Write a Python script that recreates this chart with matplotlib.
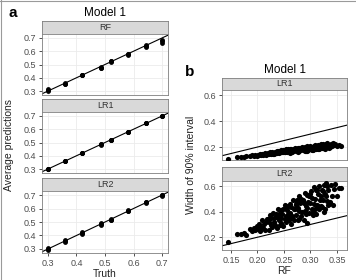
import matplotlib
matplotlib.use("Agg")
import matplotlib.pyplot as plt
from matplotlib.lines import Line2D

plt.rcParams["font.family"] = ["Liberation Sans", "DejaVu Sans"]

# panel a: truth vs average predictions (3 replicates per truth value)
truth = [0.30, 0.36, 0.42, 0.485, 0.52, 0.58, 0.645, 0.70]
pred_rf = [[0.300, 0.310, 0.318], [0.350, 0.356, 0.360], [0.418, 0.421, 0.424],
           [0.470, 0.476, 0.480], [0.520, 0.524, 0.528], [0.574, 0.578, 0.582],
           [0.630, 0.640, 0.650], [0.662, 0.675, 0.688]]
pred_lr1 = [[0.300, 0.301, 0.302], [0.358, 0.359, 0.360], [0.419, 0.420, 0.421],
            [0.484, 0.485, 0.486], [0.519, 0.520, 0.521], [0.579, 0.580, 0.581],
            [0.644, 0.645, 0.646], [0.699, 0.700, 0.701]]
pred_lr2 = [[0.295, 0.303, 0.310], [0.352, 0.358, 0.366], [0.412, 0.420, 0.428],
            [0.478, 0.485, 0.490], [0.512, 0.518, 0.524], [0.578, 0.583, 0.588],
            [0.643, 0.647, 0.651], [0.690, 0.697, 0.703]]
models_a = ["RF", "LR1", "LR2"]

# panel b: width of 90% interval, RF vs LR1 / LR2
rf_width = [
    0.145, 0.162, 0.168, 0.175, 0.178, 0.185, 0.190, 0.193, 0.196, 0.199,
    0.201, 0.203, 0.205, 0.207, 0.209, 0.211, 0.213, 0.215, 0.216, 0.218,
    0.219, 0.221, 0.222, 0.224, 0.225, 0.226, 0.228, 0.229, 0.231, 0.232,
    0.233, 0.235, 0.236, 0.237, 0.239, 0.240, 0.241, 0.243, 0.244, 0.245,
    0.247, 0.248, 0.249, 0.251, 0.252, 0.253, 0.254, 0.256, 0.257, 0.258,
    0.259, 0.261, 0.262, 0.263, 0.264, 0.266, 0.267, 0.268, 0.269, 0.271,
    0.272, 0.273, 0.274, 0.276, 0.277, 0.278, 0.279, 0.281, 0.282, 0.283,
    0.284, 0.286, 0.287, 0.288, 0.289, 0.291, 0.292, 0.293, 0.294, 0.296,
    0.297, 0.298, 0.299, 0.301, 0.302, 0.303, 0.304, 0.306, 0.307, 0.308,
    0.309, 0.311, 0.312, 0.313, 0.314, 0.316, 0.317, 0.318, 0.319, 0.321,
    0.322, 0.323, 0.324, 0.326, 0.327, 0.328, 0.329, 0.331, 0.332, 0.333,
    0.334, 0.336, 0.338, 0.340, 0.342, 0.344, 0.347, 0.350, 0.353, 0.358,
    0.236, 0.244, 0.251, 0.258, 0.265, 0.272, 0.279, 0.286, 0.293, 0.300,
    0.305, 0.310, 0.315, 0.320, 0.325, 0.330, 0.335, 0.290, 0.275, 0.262,
]
lr1_width = [
    0.105, 0.121, 0.124, 0.125, 0.131, 0.128, 0.136, 0.132, 0.140, 0.134,
    0.142, 0.136, 0.147, 0.139, 0.150, 0.141, 0.145, 0.152, 0.138, 0.149,
    0.155, 0.143, 0.151, 0.158, 0.146, 0.153, 0.160, 0.149, 0.156, 0.144,
    0.162, 0.151, 0.166, 0.158, 0.170, 0.155, 0.163, 0.172, 0.159, 0.167,
    0.160, 0.174, 0.165, 0.178, 0.158, 0.169, 0.181, 0.163, 0.172, 0.176,
    0.166, 0.184, 0.171, 0.162, 0.188, 0.175, 0.168, 0.182, 0.177, 0.190,
    0.170, 0.186, 0.179, 0.193, 0.165, 0.183, 0.195, 0.174, 0.188, 0.181,
    0.198, 0.176, 0.190, 0.184, 0.201, 0.172, 0.193, 0.186, 0.205, 0.179,
    0.196, 0.183, 0.208, 0.188, 0.175, 0.202, 0.192, 0.210, 0.181, 0.198,
    0.212, 0.187, 0.203, 0.195, 0.216, 0.182, 0.207, 0.199, 0.220, 0.190,
    0.210, 0.193, 0.224, 0.201, 0.186, 0.215, 0.205, 0.228, 0.197, 0.212,
    0.219, 0.203, 0.226, 0.209, 0.231, 0.214, 0.222, 0.207, 0.218, 0.210,
    0.152, 0.176, 0.158, 0.182, 0.160, 0.187, 0.168, 0.195, 0.172, 0.200,
    0.178, 0.206, 0.184, 0.214, 0.190, 0.222, 0.195, 0.170, 0.184, 0.157,
]
lr2_width = [
    0.160, 0.222, 0.228, 0.235, 0.218, 0.262, 0.248, 0.275, 0.256, 0.290,
    0.262, 0.305, 0.249, 0.283, 0.336, 0.270, 0.303, 0.257, 0.319, 0.342,
    0.344, 0.258, 0.320, 0.373, 0.295, 0.347, 0.280, 0.392, 0.316, 0.348,
    0.299, 0.383, 0.275, 0.357, 0.420, 0.332, 0.384, 0.297, 0.349, 0.411,
    0.385, 0.286, 0.418, 0.342, 0.454, 0.365, 0.317, 0.411, 0.343, 0.444,
    0.336, 0.460, 0.392, 0.303, 0.435, 0.369, 0.491, 0.422, 0.334, 0.418,
    0.460, 0.371, 0.493, 0.337, 0.429, 0.520, 0.402, 0.466, 0.368, 0.499,
    0.401, 0.495, 0.337, 0.468, 0.550, 0.384, 0.446, 0.527, 0.309, 0.473,
    0.525, 0.386, 0.468, 0.562, 0.424, 0.505, 0.377, 0.591, 0.463, 0.424,
    0.496, 0.380, 0.572, 0.453, 0.535, 0.419, 0.601, 0.492, 0.444, 0.568,
    0.440, 0.561, 0.493, 0.607, 0.419, 0.540, 0.622, 0.486, 0.598, 0.449,
    0.571, 0.475, 0.608, 0.522, 0.456, 0.579, 0.615, 0.520, 0.585, 0.584,
    0.355, 0.309, 0.432, 0.384, 0.357, 0.450, 0.342, 0.485, 0.427, 0.540,
    0.399, 0.568, 0.447, 0.526, 0.395, 0.524, 0.463, 0.402, 0.475, 0.362,
]
models_b = ["LR1", "LR2"]

W, H = 356, 280
fig = plt.figure(figsize=(W / 100, H / 100), dpi=100)
fig.patch.set_facecolor("white")


def px(x0, y0, x1, y1):
    return [x0 / W, 1 - y1 / H, (x1 - x0) / W, (y1 - y0) / H]


def style_panel(ax, xlim, ylim, xticks, yticks, show_x):
    ax.set_xlim(xlim)
    ax.set_ylim(ylim)
    ax.set_xticks(xticks)
    ax.set_yticks(yticks)
    ax.grid(True, color="#ebebeb", linewidth=0.6)
    ax.set_axisbelow(True)
    for s in ax.spines.values():
        s.set_color("#7f7f7f")
        s.set_linewidth(0.6)
    ax.tick_params(length=2.5, width=0.6, color="#333333", labelsize=6.5,
                   labelcolor="#4d4d4d", pad=1.5)
    if not show_x:
        ax.tick_params(axis="x", length=0, labelbottom=False)


def strip(rect, label):
    s = fig.add_axes(px(*rect))
    s.set_facecolor("#d9d9d9")
    s.set_xticks([])
    s.set_yticks([])
    for sp in s.spines.values():
        sp.set_color("#7f7f7f")
        sp.set_linewidth(0.6)
    s.text(0.5, 0.5, label, ha="center", va="center", fontsize=6.5,
           color="#333333", transform=s.transAxes)


# ---- panel a ----
ax_l, ax_r = 42, 168
rows_a = [(21, 34, 95), (99, 112, 173), (178, 191, 253)]
preds = [pred_rf, pred_lr1, pred_lr2]
for i, (name, (s0, p0, p1)) in enumerate(zip(models_a, rows_a)):
    strip((ax_l, s0, ax_r, p0), name)
    ax = fig.add_axes(px(ax_l, p0, ax_r, p1))
    xs = [t for t, reps in zip(truth, preds[i]) for _ in reps]
    ys = [v for reps in preds[i] for v in reps]
    ax.plot([0.27, 0.73], [0.27, 0.73], color="black", linewidth=0.8)
    ax.scatter(xs, ys, s=12, color="black", zorder=3, linewidths=0)
    style_panel(ax, (0.279, 0.721), (0.27, 0.73),
                [0.3, 0.4, 0.5, 0.6, 0.7], [0.3, 0.4, 0.5, 0.6, 0.7], i == 2)
    if i == 2:
        ax.set_xlabel("Truth", fontsize=7.5, labelpad=1, color="#222222")

fig.text(13 / W, 1 - 13 / H, "a", fontsize=11, fontweight="bold", ha="center", va="center")
fig.text(105 / W, 1 - 13 / H, "Model 1", fontsize=8.5, ha="center", va="center")
fig.text(9 / W, 1 - 145 / H, "Average predictions", fontsize=7.5, rotation=90,
         ha="center", va="center", color="#222222")

# ---- panel b ----
bx_l, bx_r = 222, 347
rows_b = [(78, 90, 160), (167, 181, 250)]
widths = [lr1_width, lr2_width]
for i, (name, (s0, p0, p1)) in enumerate(zip(models_b, rows_b)):
    strip((bx_l, s0, bx_r, p0), name)
    ax = fig.add_axes(px(bx_l, p0, bx_r, p1))
    ax.plot([0.13, 0.37], [0.13, 0.37], color="black", linewidth=0.8)
    ax.scatter(rf_width, widths[i], s=14, color="black", zorder=3, linewidths=0)
    style_panel(ax, (0.133, 0.369), (0.1, 0.64),
                [0.15, 0.20, 0.25, 0.30, 0.35], [0.2, 0.4, 0.6], i == 1)
    if i == 1:
        ax.set_xticklabels(["0.15", "0.20", "0.25", "0.30", "0.35"])
        ax.set_xlabel("RF", fontsize=7.5, labelpad=1, color="#222222")

fig.text(190 / W, 1 - 72 / H, "b", fontsize=11, fontweight="bold", ha="center", va="center")
fig.text(285 / W, 1 - 70 / H, "Model 1", fontsize=8.5, ha="center", va="center")
fig.text(191 / W, 1 - 165 / H, "Width of 90% interval", fontsize=7.5, rotation=90,
         ha="center", va="center", color="#222222")

# thin frame on the top and left edges
fig.add_artist(Line2D([0, 1], [0.998, 0.998], color="#9a9a9a", linewidth=0.8,
                      transform=fig.transFigure))
fig.add_artist(Line2D([0.002, 0.002], [0, 1], color="#9a9a9a", linewidth=0.8,
                      transform=fig.transFigure))

fig.savefig("out.png", dpi=100)
